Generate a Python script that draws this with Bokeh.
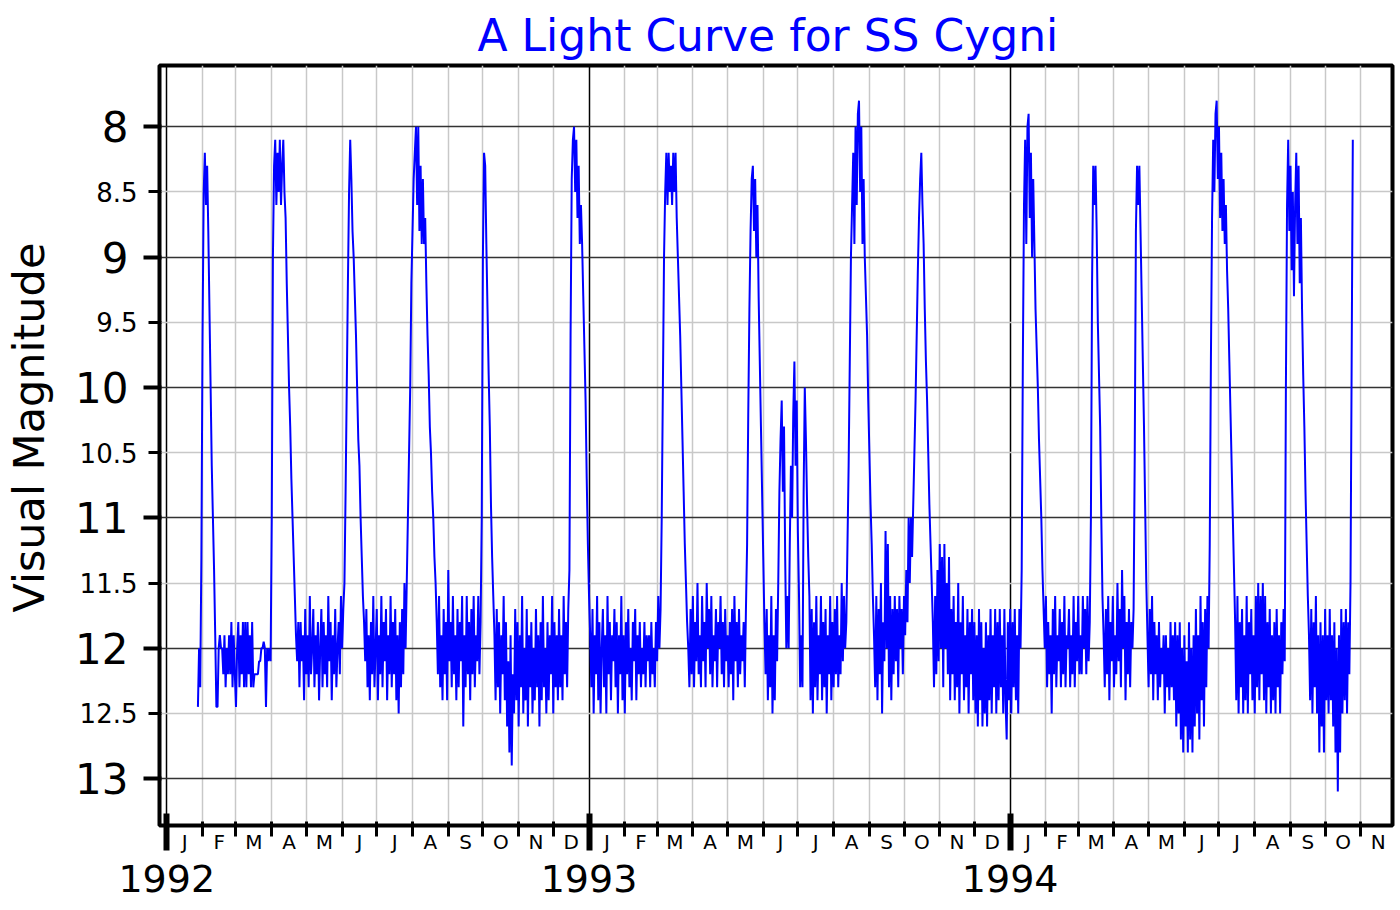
import datetime as dt
from bokeh.plotting import figure
from bokeh.models import Range1d, FixedTicker, LinearAxis, Title
from bokeh.embed import file_html
from bokeh.resources import INLINE

# ---------------- data (visual magnitudes, one estimate per day) ----------------
title_text = "A Light Curve for SS Cygni"
y_label_text = "Visual Magnitude"
years = [1992, 1993, 1994]
month_letters = ["J", "F", "M", "A", "M", "J", "J", "A", "S", "O", "N", "D"]
mag_major = [8, 9, 10, 11, 12, 13]
mag_minor = [8.5, 9.5, 10.5, 11.5, 12.5]

start_1992 = 27  # day of year of first estimate (28 Jan 1992)
mag_1992 = [
    12.45, 12.0, 12.3, 11.3, 9.6, 8.5, 8.2, 8.6, 8.3, 8.8, 9.4, 10.0, 10.6, 11.0, 11.4, 11.9, 12.45, 12.45, 12.0, 11.9,
    12.0, 12.0, 12.2, 11.9, 12.3, 12.0, 12.2, 11.9, 12.2, 11.8, 12.3, 11.9, 12.2, 12.45, 12.0, 11.8, 12.3, 11.9, 12.2, 11.8,
    12.3, 11.8, 12.3, 11.8, 12.2, 11.9, 12.3, 11.8, 12.3, 12.2, 12.2, 12.2, 12.2, 12.1, 12.1, 12.0, 12.0, 11.95, 12.0, 12.45,
    12.0, 12.1, 12.0, 12.1,
    11.0, 9.0, 8.3, 8.1, 8.6, 8.2, 8.5, 8.1, 8.6, 8.3, 8.1, 8.5, 8.7, 9.2, 9.6, 10.0, 10.3, 10.7, 11.0, 11.3,
    11.6, 11.9, 12.1, 11.8,
    12.3, 11.8, 12.1, 11.9, 12.4, 11.7, 12.2, 11.9, 12.3, 11.6, 12.2, 12.0, 11.7, 12.3, 11.9, 12.2, 11.8, 12.4, 12.0, 11.7,
    12.3, 11.8, 12.2, 11.9, 12.3, 11.6, 12.1, 11.8, 12.4, 11.9, 12.2, 11.7, 12.3, 12.0, 11.8, 12.2, 11.6, 12.0, 11.7,
    11.5, 10.8, 10.0, 9.2, 8.5, 8.1, 8.4, 8.8, 9.0, 9.3, 9.6, 10.0, 10.4, 10.6, 11.0, 11.3, 11.6, 11.8, 12.1,
    11.7, 12.3, 11.9, 12.4, 11.8, 12.2, 11.6, 12.3, 12.0, 11.7, 12.4, 11.9, 12.2, 11.6, 12.3, 11.8, 12.1, 11.7, 12.4, 11.9,
    12.2, 11.6, 12.3, 11.8, 12.2, 11.7, 12.4, 11.9, 12.5, 11.8, 12.3, 11.7, 12.2, 11.5, 12.0,
    11.5, 11.0, 10.5, 10.0, 9.2, 8.8, 8.4, 8.2, 8.0, 8.6, 8.0, 8.8, 8.3, 8.9, 8.4, 8.9, 8.7, 9.2, 9.6, 9.9,
    10.3, 10.5, 10.8, 11.0, 11.3, 11.5, 11.8,
    12.2, 11.6, 12.3, 11.9, 12.4, 11.7, 12.2, 11.8, 12.4, 11.4, 12.1, 11.8, 12.3, 11.6, 12.2, 11.9, 12.4, 11.7, 12.3, 11.8,
    12.1, 11.6, 12.6, 11.9, 12.3, 11.6, 12.2, 11.8, 12.4, 11.7, 12.2, 11.6, 12.3, 11.9, 12.1, 11.6, 12.2, 11.8,
    11.0, 9.0, 8.2, 8.3, 8.9, 9.4, 9.9, 10.3, 10.9, 11.3, 11.6, 11.9,
    12.4, 11.7, 12.3, 11.8, 12.5, 11.9, 12.2, 11.6, 12.4, 11.8, 12.6, 12.1, 12.8, 11.9, 12.9, 12.2, 12.5, 11.7, 12.4, 11.8,
    12.6, 11.9, 12.3, 11.6, 12.5, 12.0, 12.4, 11.7, 12.6, 11.9, 12.3, 11.8, 12.5, 12.0, 12.4, 11.7, 12.3, 11.9, 12.6, 11.8,
    12.4, 11.6, 12.3, 12.0, 12.5, 11.8, 12.4, 11.9, 12.2, 11.6, 12.5, 11.8, 12.3, 11.9, 12.4, 11.7, 12.3, 11.9, 12.4, 11.6,
    12.2, 11.8, 12.3, 11.7,
    11.4, 9.6, 8.4, 8.1, 8.0, 8.5, 8.1, 8.7, 8.3, 8.9, 8.6, 8.9, 9.3, 9.7, 10.1, 10.7, 11.2,
]

start_1993 = 0
mag_1993 = [
    11.6, 11.9,
    12.3, 11.7, 12.5, 11.9, 12.2, 11.6, 12.4, 11.8, 12.5, 12.0, 11.7, 12.3, 11.9, 12.5, 11.6, 12.2, 11.8, 12.4, 11.9, 12.1,
    11.7, 12.3, 11.8, 12.5, 11.9, 12.2, 11.6, 12.4, 11.9, 12.5, 11.8, 12.2, 11.7, 12.3, 12.0, 12.4, 11.8, 12.1, 11.7, 12.4,
    11.9, 12.2, 11.8, 12.3, 12.0, 12.2, 11.8, 12.3, 11.9, 12.1, 11.9, 12.3, 11.8, 12.2, 12.0, 12.3, 11.8, 12.1, 11.6, 12.0,
    11.7,
    11.0, 10.0, 9.0, 8.5, 8.2, 8.6, 8.2, 8.5, 8.3, 8.6, 8.2, 8.5, 8.2, 8.7, 9.0, 9.3, 9.6, 10.0, 10.4, 10.8,
    11.2, 11.5, 11.8,
    12.0, 12.3, 11.7, 12.2, 11.6, 12.3, 11.8, 12.1, 11.5, 12.2, 11.9, 12.3, 11.6, 12.1, 11.8, 12.3, 11.5, 12.0, 11.7, 12.2,
    11.6, 12.3, 11.9, 12.1, 11.7, 12.3, 11.8, 12.0, 11.6, 12.2, 11.8, 12.3, 11.7, 12.1, 11.9, 12.3, 11.8, 12.2, 11.7, 12.4,
    11.6, 12.1, 11.8, 12.3, 11.7, 12.2, 11.9, 12.1, 11.8, 12.3, 11.7,
    11.2, 10.2, 9.4, 8.8, 8.4, 8.3, 8.8, 8.4, 9.0, 8.6, 9.3, 9.8, 10.3, 10.8, 11.3, 11.8,
    12.2, 11.7, 12.4, 11.9, 12.3, 11.6, 12.5, 11.9, 12.4, 11.7, 12.1,
    11.5, 10.8, 10.4, 10.1, 10.8, 10.3, 11.3, 12.0, 11.6, 12.0, 11.2, 10.6, 11.0, 10.2, 9.8, 10.6, 10.1, 11.1, 11.6, 12.3,
    11.9, 12.3, 10.8, 10.0, 10.4, 10.9, 11.3, 11.6,
    12.4, 11.7, 12.5, 11.8, 12.3, 11.6, 12.4, 11.9, 12.2, 11.6, 12.4, 11.8, 12.3, 11.7, 12.5, 11.9, 12.2, 11.6, 12.4, 11.8,
    12.3, 11.7, 12.2, 11.6, 12.3, 11.9, 12.2, 11.5, 12.1, 11.6, 12.0, 11.8,
    11.2, 10.6, 9.8, 9.0, 8.6, 8.2, 8.9, 8.0, 8.6, 7.9, 7.8, 8.5, 8.0, 8.9, 8.4, 9.0, 9.3, 9.6, 10.1, 10.5,
    10.9, 11.2, 11.6, 11.9,
    12.3, 11.6, 12.4, 11.7, 12.2, 11.5, 12.5, 11.8, 12.1, 11.1, 12.0, 11.2, 12.3, 11.6, 12.4, 11.7, 12.2, 11.6, 12.1, 11.7,
    12.3, 11.6, 12.0, 11.7, 12.2, 11.6, 11.9, 11.4, 11.8,
    11.0, 11.5, 11.0, 11.3, 10.9, 10.5, 10.1, 9.6, 9.1, 8.7, 8.4, 8.2, 8.6, 8.9, 9.4, 9.8, 10.1, 10.5, 10.9, 11.2,
    11.5, 11.8,
    12.3, 11.6, 12.2, 11.4, 12.1, 11.2, 12.0, 11.3, 12.3, 11.2, 12.0, 11.5, 12.2, 11.3, 12.4, 11.7, 12.2, 11.6, 12.4, 11.8,
    12.3, 11.5, 12.5, 11.8, 12.2, 11.6, 12.4, 11.9, 12.3, 11.7, 12.5, 11.8, 12.2, 11.7, 12.4, 11.8, 12.5, 11.9, 12.6, 11.7,
    12.4, 11.8, 12.6, 12.0, 12.5, 11.8, 12.6, 11.9, 12.4, 11.7, 12.5, 11.9, 12.3, 11.7, 12.5, 11.8, 12.4, 11.7, 12.3, 11.9,
    12.5, 11.7, 12.4, 12.7, 11.8, 12.4,
]

start_1994 = 0
mag_1994 = [
    11.7, 12.5, 11.8, 12.3, 11.7, 12.4, 11.9, 12.5, 11.7, 12.0,
    11.4, 9.8, 8.6, 8.1, 8.9, 8.0, 7.9, 8.7, 8.2, 9.0, 8.4, 8.9, 9.4, 9.7, 10.0, 10.4, 10.7, 11.0, 11.4, 11.7,
    12.0, 11.6, 12.3, 11.8, 12.2, 11.9, 12.5, 11.7, 12.2, 11.6, 12.3, 11.9, 12.1, 11.7, 12.3, 11.8, 12.2, 11.6, 12.3, 11.9,
    12.0, 11.7, 12.3, 11.9, 12.2, 11.6, 12.3, 11.8, 12.1, 11.6, 12.2, 11.9, 12.2, 11.6, 12.0, 11.7, 12.2, 11.6, 12.1, 11.8,
    11.0, 9.2, 8.3, 8.6, 8.3, 8.8, 9.5, 9.9, 10.3, 11.0, 11.6, 11.9,
    12.3, 11.7, 12.2, 11.6, 12.4, 11.8, 12.1, 11.6, 12.3, 11.9, 12.2, 11.5, 12.1, 11.7, 12.3, 11.4, 12.0, 11.6, 12.4, 11.8,
    12.2, 11.7, 12.3, 11.8, 12.0, 11.7,
    10.5, 8.8, 8.3, 8.6, 8.3, 8.8, 9.3, 9.8, 10.3, 10.9, 11.5, 11.9,
    12.3, 11.7, 12.2, 11.6, 12.4, 11.8, 12.2, 11.9, 12.4, 11.8, 12.3, 12.0, 12.2, 11.9, 12.5, 11.9, 12.3, 12.0, 12.4, 11.8,
    12.3, 11.9, 12.4, 11.8, 12.6, 11.9, 12.5, 11.8, 12.7, 12.0, 12.8, 11.9, 12.6, 12.1, 12.8, 11.8, 12.7, 12.0, 12.8, 11.9,
    12.6, 11.7, 12.5, 11.9, 12.7, 11.6, 12.4, 11.8, 12.6, 11.7, 12.3, 11.6, 12.0,
    11.2, 9.8, 8.7, 8.1, 8.5, 7.9, 7.8, 8.4, 8.0, 8.7, 8.2, 8.8, 8.4, 8.9, 8.6, 9.1, 9.4, 9.8, 10.2, 10.6,
    11.0, 11.4, 11.8,
    12.4, 11.6, 12.5, 11.8, 12.3, 11.7, 12.5, 11.9, 12.4, 11.6, 12.5, 11.8, 12.2, 11.7, 12.4, 11.9, 12.5, 11.6, 12.3, 11.5,
    12.4, 11.6, 12.2, 11.5, 12.4, 11.6, 12.5, 11.8, 12.3, 11.7, 12.5, 11.9, 12.4, 11.8, 12.5, 11.7, 12.3, 11.9, 12.5, 11.8,
    12.2, 11.7, 12.1,
    10.0, 8.6, 8.1, 8.8, 8.3, 9.1, 8.5, 9.3, 8.6, 8.2, 8.9, 8.3, 9.2, 8.7, 9.4, 9.9, 10.3, 10.8, 11.2, 11.6,
    11.9,
    12.4, 11.7, 12.5, 11.8, 12.3, 11.6, 12.5, 11.9, 12.8, 11.8, 12.6, 11.9, 12.8, 11.7, 12.4, 11.9, 12.5, 11.7, 12.4, 11.9,
    12.6, 11.8, 12.8, 12.0, 13.1, 11.9, 12.8, 11.7, 12.5, 11.8, 12.4, 11.7, 12.5, 11.8, 12.2, 11.5,
    9.8, 8.1,
]

# ---------------- time axis: days since 1 Jan 1992 ----------------
origin = dt.date(1992, 1, 1)


def day_of(d):
    return (d - origin).days


year_start = {yr: day_of(dt.date(yr, 1, 1)) for yr in years}

x_vals, y_vals = [], []
for yr, start, mags in ((1992, start_1992, mag_1992), (1993, start_1993, mag_1993), (1994, start_1994, mag_1994)):
    for i, m in enumerate(mags):
        x_vals.append(year_start[yr] + start + i)
        y_vals.append(m)

# month boundaries and mid-month label positions (Jan 1992 .. Nov 1994)
month_starts, month_mids, month_text = [], [], []
for yr in years:
    for mo in range(1, 13):
        d0 = dt.date(yr, mo, 1)
        d1 = dt.date(yr + (mo == 12), mo % 12 + 1, 1)
        if d0 > dt.date(1994, 11, 1):
            continue
        month_starts.append(day_of(d0))
        month_mids.append((day_of(d0) + day_of(d1)) / 2.0)
        month_text.append(month_letters[mo - 1])
year_ticks = [year_start[yr] for yr in years]
month_minor = [d for d in month_starts if d not in year_ticks]

FONT = "DejaVu Sans"

p = figure(width=1400, height=906, output_backend="svg", toolbar_location=None,
           x_range=Range1d(-6.3, 1062.4), y_range=Range1d(13.36, 7.53),
           min_border_left=159, min_border_right=8, min_border_top=65, min_border_bottom=81)
p.background_fill_color = "white"
p.border_fill_color = "white"
p.outline_line_color = "black"
p.outline_line_width = 4

p.title.text = title_text
p.title.text_font = FONT
p.title.text_font_size = "44px"
p.title.text_font_style = "normal"
p.title.text_color = "#0000ff"
p.title.align = "left"
p.title.offset = 318
p.title.standoff = 9

# ---- x axis: month initials (closest) + years with thick ticks (outer) ----
xa = p.xaxis[0]
xa.ticker = FixedTicker(ticks=month_mids, minor_ticks=month_starts)
xa.axis_line_color = None
xa.major_tick_line_color = None
xa.major_tick_in = 0
xa.major_tick_out = 0
xa.minor_tick_in = 4
xa.minor_tick_out = 11
xa.minor_tick_line_width = 3
xa.minor_tick_line_color = "black"
xa.major_label_overrides = {m: t for m, t in zip(month_mids, month_text)}
xa.major_label_text_font = FONT
xa.major_label_text_font_size = "20px"
xa.major_label_text_color = "black"
xa.major_label_standoff = -7

xb = LinearAxis(ticker=FixedTicker(ticks=year_ticks))
xb.axis_line_color = None
xb.minor_tick_line_color = None
xb.major_tick_in = 43
xb.major_tick_out = -6
xb.major_tick_line_width = 6
xb.major_tick_line_color = "black"
xb.major_label_overrides = {year_start[yr]: str(yr) for yr in years}
xb.major_label_text_font = FONT
xb.major_label_text_font_size = "38px"
xb.major_label_text_color = "black"
xb.major_label_standoff = 8
p.add_layout(xb, "below")

# ---- y axis: integer magnitudes (closest) + half magnitudes (smaller text) ----
ya = p.yaxis[0]
ya.ticker = FixedTicker(ticks=mag_major, minor_ticks=mag_minor)
ya.axis_line_color = None
ya.major_tick_in = 2
ya.major_tick_out = 16
ya.major_tick_line_width = 4
ya.minor_tick_in = 2
ya.minor_tick_out = 11
ya.minor_tick_line_width = 3
ya.major_label_overrides = {m: str(m) for m in mag_major}
ya.major_label_text_font = FONT
ya.major_label_text_font_size = "42px"
ya.major_label_text_color = "black"
ya.major_label_standoff = 15

yb = LinearAxis(ticker=FixedTicker(ticks=mag_minor))
yb.axis_line_color = None
yb.major_tick_line_color = None
yb.minor_tick_line_color = None
yb.major_tick_in = 0
yb.major_tick_out = 0
yb.major_label_overrides = {m: str(m) for m in mag_minor}
yb.major_label_text_font = FONT
yb.major_label_text_font_size = "26px"
yb.major_label_text_color = "black"
yb.major_label_standoff = -65
p.add_layout(yb, "left")

# spacer axis (one invisible tick, empty label) that pushes the vertical title outwards
spacer = LinearAxis(ticker=FixedTicker(ticks=[mag_minor[0]]))
spacer.axis_line_color = None
spacer.major_tick_line_color = None
spacer.minor_tick_line_color = None
spacer.major_tick_in = 0
spacer.major_tick_out = 19
spacer.minor_tick_out = 0
spacer.major_label_standoff = 0
spacer.major_label_overrides = {mag_minor[0]: ""}
spacer.major_label_text_font_size = "1px"
p.add_layout(spacer, "left")

p.add_layout(Title(text=y_label_text, align="left", offset=213, standoff=0,
                   text_font=FONT, text_font_size="43px", text_font_style="normal",
                   text_color="black"), "left")

# ---- grids ----
p.xgrid.ticker = FixedTicker(ticks=year_ticks, minor_ticks=month_minor)
p.xgrid.grid_line_color = "black"
p.xgrid.grid_line_width = 1.5
p.xgrid.minor_grid_line_color = "#c8c8c8"
p.xgrid.minor_grid_line_width = 1.5
p.ygrid.ticker = FixedTicker(ticks=mag_major, minor_ticks=mag_minor)
p.ygrid.grid_line_color = "#333333"
p.ygrid.grid_line_width = 1.5
p.ygrid.minor_grid_line_color = "#c8c8c8"
p.ygrid.minor_grid_line_width = 1.5

p.line(x_vals, y_vals, line_color="#0000ff", line_width=2)

open("out.html", "w").write(file_html(p, INLINE))
